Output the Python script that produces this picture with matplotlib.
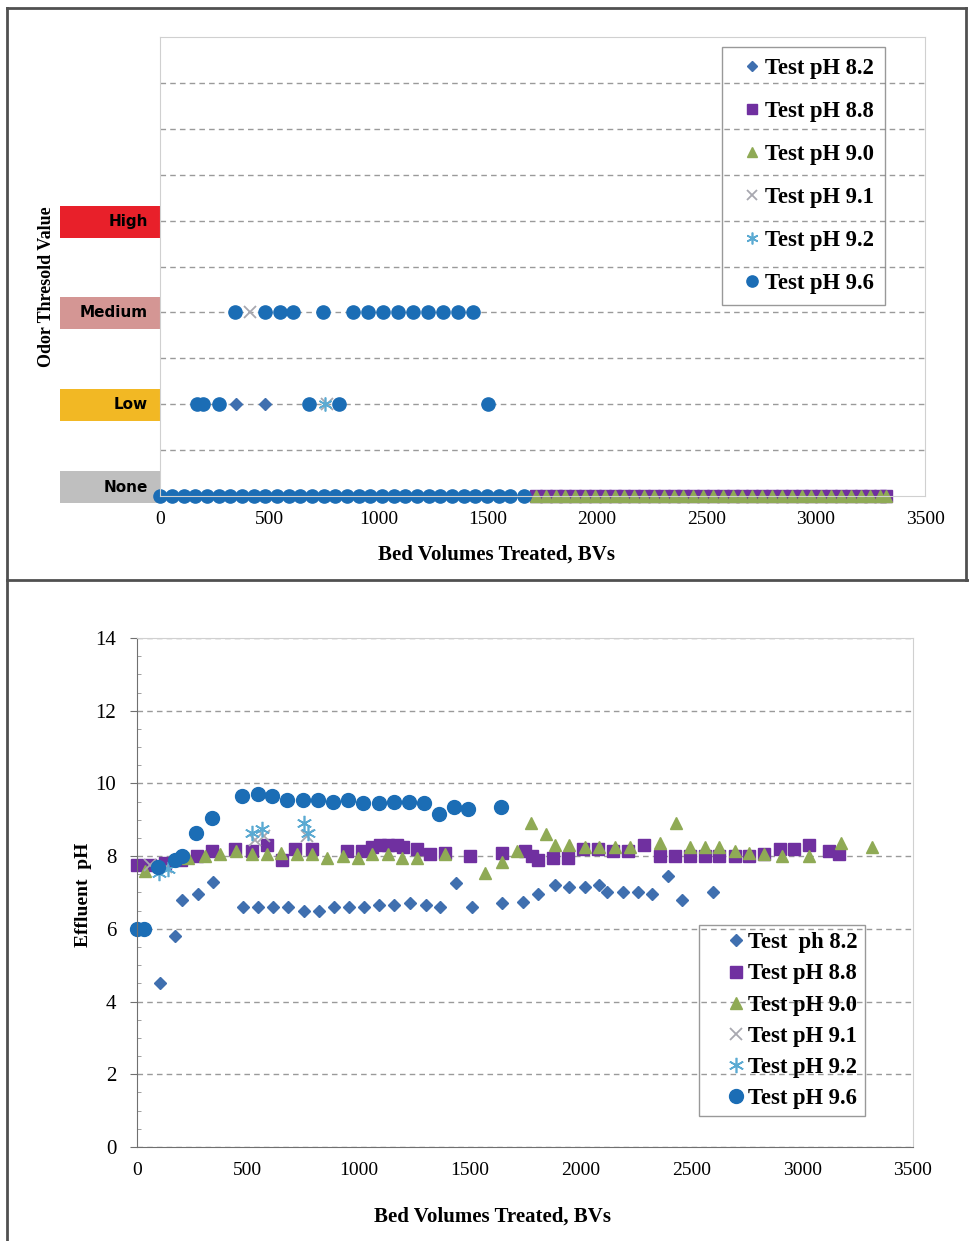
import numpy as np
import matplotlib.pyplot as plt
from matplotlib.patches import Rectangle
from matplotlib.lines import Line2D
from matplotlib.transforms import blended_transform_factory

plt.rcParams['font.family'] = 'Liberation Serif'

# ---- bottom panel: effluent pH vs bed volumes ----
bv_82 = [105, 170, 205, 275, 345, 478, 545, 613, 680, 752, 820, 888, 955, 1023, 1090,
         1158, 1230, 1302, 1366, 1437, 1510, 1645, 1740, 1807, 1884, 1947, 2019, 2082,
         2118, 2190, 2258, 2325, 2393, 2456, 2596]
ph_82 = [4.5, 5.8, 6.8, 6.95, 7.3, 6.6, 6.6, 6.6, 6.6, 6.5, 6.5, 6.6, 6.6, 6.6, 6.65,
         6.65, 6.7, 6.65, 6.6, 7.25, 6.6, 6.7, 6.75, 6.95, 7.2, 7.15, 7.15, 7.2,
         7.0, 7.0, 7.0, 6.95, 7.45, 6.8, 7.0]

bv_88 = [0, 60, 125, 200, 270, 340, 442, 518, 586, 653, 712, 788, 946, 1014, 1059, 1095,
         1131, 1171, 1200, 1262, 1320, 1388, 1500, 1645, 1749, 1780, 1807, 1875, 1942,
         2010, 2078, 2145, 2213, 2285, 2357, 2425, 2492, 2560, 2623, 2695, 2762, 2830,
         2898, 2965, 3033, 3123, 3168]
ph_88 = [7.75, 7.75, 7.8, 7.9, 8.0, 8.15, 8.2, 8.15, 8.3, 7.9, 8.2, 8.2, 8.15, 8.15, 8.25, 8.3,
         8.3, 8.3, 8.25, 8.2, 8.05, 8.1, 8.0, 8.1, 8.15, 8.0, 7.9, 7.95, 7.95,
         8.2, 8.2, 8.15, 8.15, 8.3, 8.0, 8.0, 8.0, 8.0, 8.0, 8.0, 8.0, 8.05,
         8.2, 8.2, 8.3, 8.15, 8.05]

bv_90 = [36, 230, 306, 374, 446, 518, 586, 649, 721, 788, 856, 928, 996, 1059, 1131,
         1194, 1262, 1388, 1568, 1645, 1712, 1776, 1843, 1884, 1947, 2019, 2082, 2154,
         2222, 2357, 2429, 2492, 2560, 2627, 2695, 2762, 2830, 2907, 3033, 3177, 3317]
ph_90 = [7.6, 7.95, 8.0, 8.05, 8.15, 8.05, 8.05, 8.1, 8.05, 8.05, 7.95, 8.0, 7.95, 8.05, 8.05,
         7.95, 7.95, 8.05, 7.55, 7.85, 8.15, 8.9, 8.6, 8.3, 8.3, 8.25, 8.25, 8.25,
         8.25, 8.35, 8.9, 8.25, 8.25, 8.25, 8.15, 8.1, 8.05, 8.0, 8.0, 8.35, 8.25]

bv_91 = [60, 130, 530, 575, 765]
ph_91 = [7.75, 7.7, 8.45, 8.55, 8.55]

bv_92 = [100, 140, 520, 565, 755, 770]
ph_92 = [7.55, 7.65, 8.65, 8.75, 8.9, 8.65]

bv_96 = [0, 30, 95, 170, 205, 265, 340, 475, 545, 610, 675, 750, 815, 885, 950, 1020,
         1090, 1160, 1225, 1295, 1360, 1430, 1495, 1640]
ph_96 = [6.0, 6.0, 7.7, 7.9, 8.0, 8.65, 9.05, 9.65, 9.7, 9.65, 9.55, 9.55, 9.55, 9.5, 9.55, 9.45,
         9.45, 9.5, 9.5, 9.45, 9.15, 9.35, 9.3, 9.35]

# ---- top panel: odor threshold level (0 None, 1 Low, 2 Medium, 3 High) ----
odor_levels = ['None', 'Low', 'Medium', 'High']
odor_96_none = [0, 55, 110, 160, 215, 270, 320, 375, 430, 480, 535, 590, 640, 695, 750, 800,
                855, 910, 960, 1015, 1070, 1120, 1175, 1230, 1280, 1335, 1390, 1440, 1495,
                1550, 1600, 1665]
odor_96_low = [169, 197, 270, 682, 819, 1501]
odor_96_med = [343, 480, 549, 608, 746, 883, 952, 1020, 1089, 1158, 1226, 1295, 1363, 1432]
odor_82_low = [348, 480]
odor_91_med = [412]
odor_91_low = [765]
odor_92_low = [755]
odor_88_none = [1720, 1765, 1810, 1855, 1900, 1945, 1990, 2035, 2080, 2125, 2170, 2215,
                2260, 2305, 2350, 2395, 2440, 2485, 2530, 2575, 2620, 2665, 2710, 2755,
                2800, 2845, 2890, 2935, 2980, 3025, 3070, 3115, 3160, 3205, 3250, 3295, 3320]
odor_90_none = odor_88_none

W, H = 969, 1241


def fx(x):
    return x / W


def fy(y):
    return 1 - y / H


c82, c88, c90, c91, c92, c96 = '#3F6FAF', '#7030A0', '#8FAA55', '#A8A8B0', '#5BAAD2', '#1B6DB5'

fig = plt.figure(figsize=(W / 100, H / 100), dpi=100)

# frame lines around the panels
for (x0, y0, x1, y1) in [(7, 8, 966, 8), (7, 8, 7, 1241), (966, 8, 966, 580), (7, 580, 969, 580)]:
    fig.add_artist(Line2D([fx(x0), fx(x1)], [fy(y0), fy(y1)], transform=fig.transFigure,
                          color='#505050', lw=2))

# ================= top panel =================
ax1 = fig.add_axes([fx(160), fy(496), fx(925) - fx(160), fy(37) - fy(496)])
ax1.set_xlim(0, 3500)
ax1.set_ylim(0, 5)
ax1.set_xticks(np.arange(0, 3501, 500))
ax1.set_yticks([])
ax1.set_yticks(np.arange(0.5, 4.6, 0.5), minor=True)
ax1.grid(True, which='minor', axis='y', ls=(0, (4, 3)), color='#9a9a9a', lw=1)
ax1.tick_params(axis='y', which='minor', length=0)
ax1.tick_params(axis='x', length=0, labelsize=14, pad=11)
for s in ax1.spines.values():
    s.set_color('#d0d0d0')

mk = dict(ls='none', clip_on=False)
ax1.plot(odor_82_low, [1] * len(odor_82_low), marker='D', ms=6, color=c82, label='Test pH 8.2', **mk)
ax1.plot(odor_88_none, [0] * len(odor_88_none), marker='s', ms=9, color=c88, label='Test pH 8.8', **mk)
ax1.plot(odor_90_none, [0] * len(odor_90_none), marker='^', ms=9, color=c90, label='Test pH 9.0', **mk)
ax1.plot(odor_91_med + odor_91_low, [2] * len(odor_91_med) + [1] * len(odor_91_low),
         marker='x', ms=8, mew=1.3, color=c91, label='Test pH 9.1', **mk)
ax1.plot(odor_92_low, [1] * len(odor_92_low), marker=(6, 2, 0), ms=10, mew=1.2, color=c92,
         label='Test pH 9.2', **mk)
ax1.plot(odor_96_none + odor_96_low + odor_96_med,
         [0] * len(odor_96_none) + [1] * len(odor_96_low) + [2] * len(odor_96_med),
         marker='o', ms=9.5, color=c96, label='Test pH 9.6', **mk)

# category boxes to the left of the axis
box_colors = ['#BFBFBF', '#F2B824', '#D49694', '#E8202A']
box_bottoms = [-0.08, 0.82, 1.82, 2.81]
trans = blended_transform_factory(ax1.transAxes, ax1.transData)
for lvl, col, b in zip(odor_levels, box_colors, box_bottoms):
    ax1.add_patch(Rectangle((-0.1307, b), 0.1307, 0.35, transform=trans, clip_on=False,
                            facecolor=col, edgecolor='none'))
    ax1.text(-0.016, b + 0.175, lvl, transform=trans, ha='right', va='center',
             fontsize=11, fontweight='bold', family='DejaVu Sans')

leg1 = ax1.legend(loc='upper left', bbox_to_anchor=(fx(722), fy(47)), bbox_transform=fig.transFigure,
                  borderaxespad=0, frameon=True, fancybox=False, edgecolor='#808080',
                  facecolor='none', prop={'weight': 'bold', 'size': 16.3}, labelspacing=0.97,
                  handlelength=1.62, handletextpad=-0.23, borderpad=0.5, markerscale=0.85)

fig.text(fx(497), fy(555), 'Bed Volumes Treated, BVs', ha='center', va='center',
         fontsize=15, fontweight='bold')
fig.text(fx(47), fy(287), 'Odor Thresold Value', ha='center', va='center', rotation=90,
         fontsize=13, fontweight='bold')

# ================= bottom panel =================
ax2 = fig.add_axes([fx(137), fy(1147), fx(913) - fx(137), fy(638) - fy(1147)])
ax2.set_xlim(0, 3500)
ax2.set_ylim(0, 14)
ax2.set_xticks(np.arange(0, 3501, 500))
ax2.set_yticks(np.arange(0, 15, 2))
ax2.set_yticks(np.arange(0, 14.1, 0.5), minor=True)
ax2.yaxis.grid(True, which='major', ls=(0, (4, 3)), color='#9a9a9a', lw=1)
ax2.tick_params(labelsize=15)
ax2.tick_params(axis='y', which='major', direction='out', length=5, color='#707070', pad=10)
ax2.tick_params(axis='y', which='minor', direction='in', length=3, color='#909090')
ax2.tick_params(axis='x', length=0, pad=11, labelsize=14)
ax2.spines['top'].set_color('#d0d0d0')
ax2.spines['right'].set_color('#d0d0d0')
ax2.spines['left'].set_color('#707070')
ax2.spines['bottom'].set_color('#707070')

ax2.plot(bv_82, ph_82, marker='D', ms=6.5, color=c82, label='Test  ph 8.2', **mk)
ax2.plot(bv_88, ph_88, marker='s', ms=9, color=c88, label='Test pH 8.8', **mk)
ax2.plot(bv_90, ph_90, marker='^', ms=9, color=c90, label='Test pH 9.0', **mk)
ax2.plot(bv_91, ph_91, marker='x', ms=8, mew=1.3, color=c91, label='Test pH 9.1', **mk)
ax2.plot(bv_92, ph_92, marker=(6, 2, 0), ms=11, mew=1.2, color=c92, label='Test pH 9.2', **mk)
ax2.plot(bv_96, ph_96, marker='o', ms=10, color=c96, label='Test pH 9.6', **mk)

leg2 = ax2.legend(loc='upper left', bbox_to_anchor=(fx(699), fy(925)), bbox_transform=fig.transFigure,
                  borderaxespad=0, frameon=True, fancybox=False, edgecolor='#808080',
                  facecolor='none', prop={'weight': 'bold', 'size': 16.3}, labelspacing=0.45,
                  handlelength=2.64, handletextpad=-0.8, borderpad=0.32, markerscale=1.0)

fig.text(fx(492), fy(1217), 'Bed Volumes Treated, BVs', ha='center', va='center',
         fontsize=15, fontweight='bold')
fig.text(fx(83), fy(895), 'Effluent  pH', ha='center', va='center', rotation=90,
         fontsize=14, fontweight='bold')

fig.savefig('out.png', dpi=100)
